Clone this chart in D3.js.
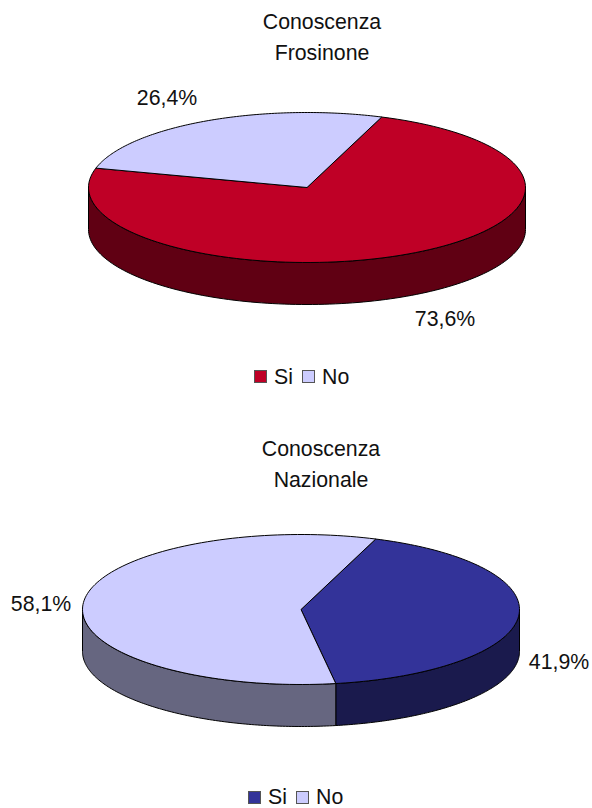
<!DOCTYPE html>
<html><head><meta charset="utf-8">
<script src="https://cdn.jsdelivr.net/npm/d3@7"></script>
<style>html,body{margin:0;padding:0;background:#fff}svg{display:block}text{font-family:"Liberation Sans",Arial,sans-serif;fill:#111}</style>
</head><body><svg id="c" width="592" height="808"></svg>
<script>
const categories = ["Si", "No"];
const frosinoneValues = [73.6, 26.4];
const nazionaleValues = [41.9, 58.1];
const frosinoneTitle = ["Conoscenza", "Frosinone"];
const nazionaleTitle = ["Conoscenza", "Nazionale"];
const frosinoneLabels = ["73,6%", "26,4%"];
const nazionaleLabels = ["41,9%", "58,1%"];
const frosinoneColors = ["#BF0026", "#CCCCFF"];
const frosinoneSides = ["#600013", "#666680"];
const nazionaleColors = ["#333399", "#CCCCFF"];
const nazionaleSides = ["#1A1A4D", "#666680"];

const svg = d3.select("#c");
const fs = 21.3;

function drawPie(cfg) {
  const g = svg.append("g");
  const start = 20 * Math.PI / 180;
  const pie = d3.pie().sort(null).startAngle(start).endAngle(start + 2 * Math.PI);
  const arcs = pie(cfg.values);
  const sx = d3.scaleLinear().domain([-1, 1]).range([cfg.cx - cfg.rx, cfg.cx + cfg.rx]);
  const sy = d3.scaleLinear().domain([-1, 1]).range([cfg.cy - cfg.ry, cfg.cy + cfg.ry]);
  const pt = (a, dz = 0) => [sx(Math.sin(a)), sy(-Math.cos(a)) + dz];
  const line = d3.line();
  const samples = (a0, a1, dz) => d3.range(0, 121).map(i => pt(a0 + (a1 - a0) * i / 120, dz));

  // side walls: only the front half of the disc (90deg..270deg clockwise from top) is visible
  const lo = Math.PI / 2, hi = 3 * Math.PI / 2;
  arcs.forEach((d, i) => {
    [0, 2 * Math.PI].forEach(off => {
      const a0 = Math.max(d.startAngle - off, lo), a1 = Math.min(d.endAngle - off, hi);
      if (a1 <= a0) return;
      const pts = samples(a0, a1, 0).concat(samples(a1, a0, cfg.depth));
      g.append("path").attr("d", line(pts) + "Z")
        .attr("fill", cfg.sides[i]).attr("stroke", "#000").attr("stroke-width", 1).attr("stroke-linejoin", "round");
    });
  });
  // top faces
  arcs.forEach((d, i) => {
    const pts = [[sx(0), sy(0)]].concat(samples(d.startAngle, d.endAngle, 0));
    g.append("path").attr("d", line(pts) + "Z")
      .attr("fill", cfg.colors[i]).attr("stroke", "#000").attr("stroke-width", 1).attr("stroke-linejoin", "round");
  });
  // title
  cfg.title.forEach((t, i) => g.append("text").attr("x", cfg.titleX).attr("y", cfg.titleY + i * 31)
    .attr("text-anchor", "middle").attr("font-size", fs).text(t));
  // data labels
  cfg.labels.forEach((t, i) => g.append("text").attr("x", cfg.labelPos[i][0]).attr("y", cfg.labelPos[i][1])
    .attr("text-anchor", "middle").attr("font-size", fs).text(t));
  // legend
  const lg = g.append("g").attr("transform", `translate(${cfg.legendX},${cfg.legendY})`);
  const offs = [0, 48];
  categories.forEach((c, i) => {
    lg.append("rect").attr("x", offs[i]).attr("y", 0).attr("width", 12).attr("height", 12)
      .attr("fill", cfg.colors[i]).attr("stroke", "#555").attr("stroke-width", 1);
    lg.append("text").attr("x", offs[i] + 19.5).attr("y", cfg.legendBase).attr("font-size", fs).text(c);
  });
}

drawPie({values: frosinoneValues, colors: frosinoneColors, sides: frosinoneSides, title: frosinoneTitle, labels: frosinoneLabels,
  cx: 307, cy: 187.5, rx: 218.5, ry: 75, depth: 42, titleX: 322, titleY: 29,
  labelPos: [[445, 326], [167, 105]], legendX: 254.5, legendY: 370.5, legendBase: 13});
drawPie({values: nazionaleValues, colors: nazionaleColors, sides: nazionaleSides, title: nazionaleTitle, labels: nazionaleLabels,
  cx: 301, cy: 609.5, rx: 218.5, ry: 75, depth: 42, titleX: 321, titleY: 456,
  labelPos: [[559, 669], [41, 611]], legendX: 248.5, legendY: 791.5, legendBase: 12});
</script></body></html>
